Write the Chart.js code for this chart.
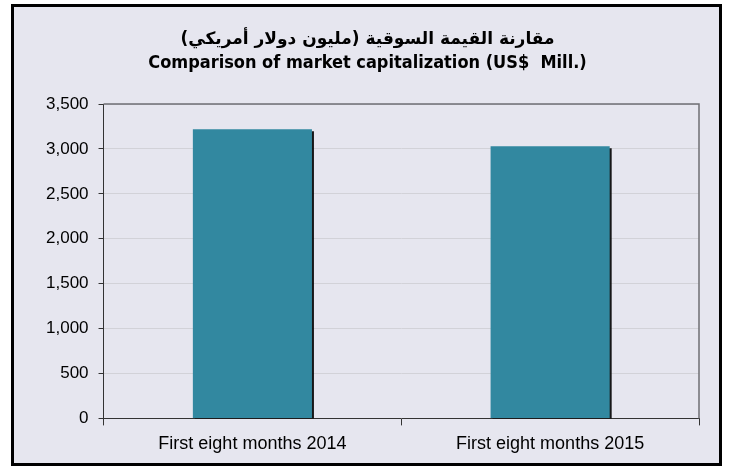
<!DOCTYPE html>
<html>
<head>
<meta charset="utf-8">
<script src="https://cdn.jsdelivr.net/npm/chart.js@4"></script>
<style>
  html, body { margin: 0; padding: 0; background: #ffffff; }
  #wrap { width: 729px; height: 467px; }
</style>
</head>
<body>
<div id="wrap"><canvas id="capChart"></canvas></div>
<script>
const categories = ["First eight months 2014", "First eight months 2015"];
const marketCap = [3220, 3030];
const titleAr = "مقارنة القيمة السوقية (مليون دولار أمريكي)";
const titleEn = "Comparison of market capitalization (US$  Mill.)";

// panel background + outer black frame
const panelBg = {
  id: "panelBg",
  beforeDraw(chart) {
    const ctx = chart.ctx;
    ctx.save();
    ctx.fillStyle = "#ffffff";
    ctx.fillRect(0, 0, chart.width, chart.height);
    ctx.fillStyle = "#e6e6ef";
    ctx.fillRect(12.5, 5.5, 708, 459);
    ctx.strokeStyle = "#000000";
    ctx.lineWidth = 3;
    ctx.strokeRect(12.5, 5.5, 708, 459);
    ctx.restore();
  }
};

// grey frame on top and right of the plot area
const plotFrame = {
  id: "plotFrame",
  afterDatasetsDraw(chart) {
    const { ctx, chartArea: a } = chart;
    ctx.save();
    ctx.strokeStyle = "#6f6f74";
    ctx.lineWidth = 1.5;
    ctx.beginPath();
    ctx.moveTo(a.left, a.top);
    ctx.lineTo(a.right, a.top);
    ctx.lineTo(a.right, a.bottom);
    ctx.stroke();
    ctx.restore();
  }
};

// hard drop shadow under the bars
const barShadow = {
  id: "barShadow",
  beforeDatasetsDraw(chart) {
    const ctx = chart.ctx;
    ctx.save();
    ctx.shadowColor = "rgba(0, 0, 0, 0.9)";
    ctx.shadowOffsetX = 2;
    ctx.shadowOffsetY = 2;
    ctx.shadowBlur = 0;
  },
  afterDatasetsDraw(chart) {
    chart.ctx.restore();
  }
};

new Chart(document.getElementById("capChart"), {
  type: "bar",
  data: {
    labels: categories,
    datasets: [{
      label: "Market capitalization",
      data: marketCap,
      backgroundColor: "#3288a0",
      borderWidth: 0,
      categoryPercentage: 0.4,
      barPercentage: 1
    }]
  },
  options: {
    responsive: true,
    maintainAspectRatio: false,
    animation: false,
    layout: { padding: { left: 36, right: 30, top: 21, bottom: 4 } },
    plugins: {
      legend: { display: false },
      tooltip: { enabled: false },
      title: {
        display: true,
        text: titleAr,
        color: "#000000",
        font: { family: "'DejaVu Sans'", size: 17, weight: "bold" },
        padding: { top: 8, bottom: 3 }
      },
      subtitle: {
        display: true,
        text: titleEn,
        color: "#000000",
        font: { family: "'Liberation Sans Narrow', 'DejaVu Sans Condensed'", size: 18, weight: "bold" },
        padding: { top: 0, bottom: 30 }
      }
    },
    scales: {
      x: {
        grid: {
          offset: true,
          drawOnChartArea: false,
          tickLength: 7,
          tickColor: "#333333"
        },
        border: { color: "#333333", width: 1 },
        ticks: {
          color: "#000000",
          padding: 8,
          font: { family: "'Liberation Sans', Arial", size: 18 }
        }
      },
      y: {
        min: 0,
        max: 3500,
        ticks: {
          stepSize: 500,
          color: "#000000",
          padding: 10,
          font: { family: "'Liberation Sans', Arial", size: 17 },
          callback: v => v.toLocaleString("en-US")
        },
        grid: {
          color: "#d2d2d8",
          tickLength: 5,
          tickColor: "#333333"
        },
        border: { color: "#333333", width: 1 }
      }
    }
  },
  plugins: [panelBg, barShadow, plotFrame]
});
</script>
</body>
</html>
